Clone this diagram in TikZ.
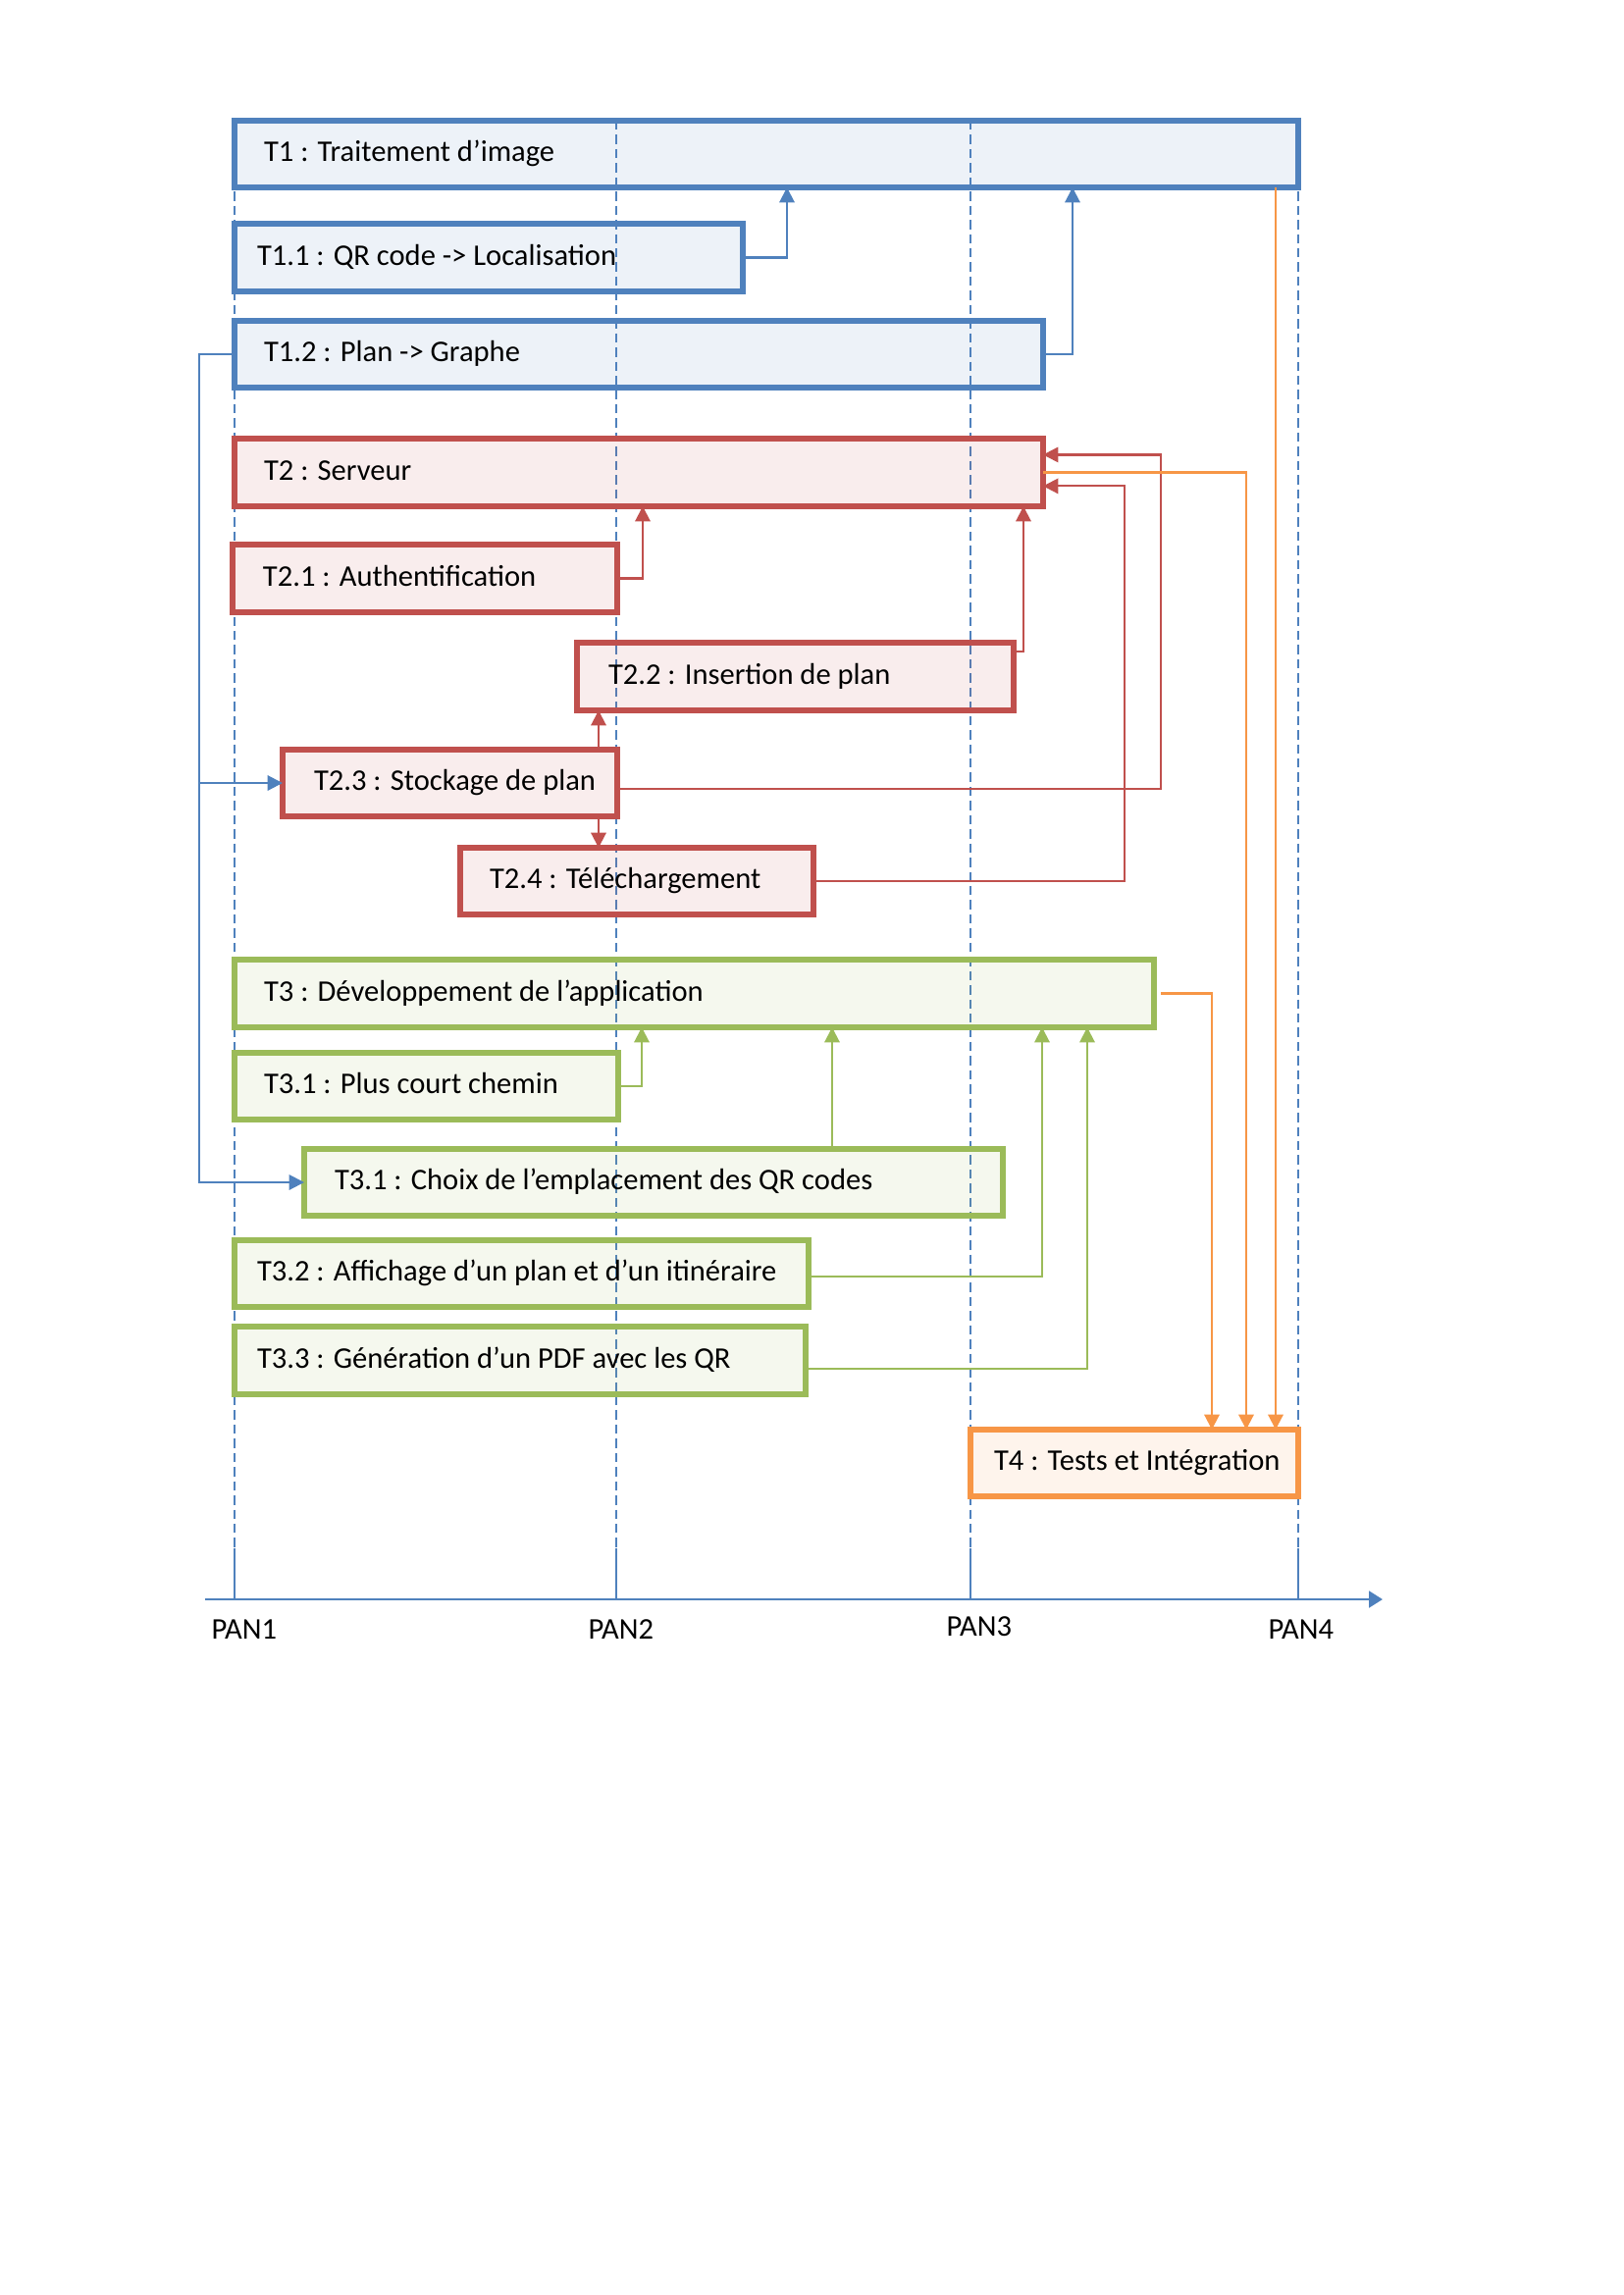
\documentclass[tikz,border=0pt]{standalone}
\usepackage{fontspec}
\setmainfont{Carlito}
\usetikzlibrary{arrows.meta}
\definecolor{cblue}{HTML}{4F81BD}
\definecolor{cred}{HTML}{C0504D}
\definecolor{cgreen}{HTML}{9BBB59}
\definecolor{corange}{HTML}{F79646}
\tikzset{
  tb/.style={draw=#1, line width=2pt, fill=#1, fill opacity=0.1, text opacity=1,
    outer sep=0pt, inner sep=0pt, font=\fontsize{11}{13.6}\selectfont},
  conn/.style={draw=#1, line width=0.75pt},
  arr/.style={conn=#1, -{Triangle[length=5.5pt,width=5.5pt]}},
  panline/.style={draw=cblue, line width=0.75pt, dash pattern=on 3.4pt off 1.8pt},
  lbl/.style={font=\fontsize{11}{13.6}\selectfont, inner sep=0pt},
}
% name, style, x1, y1, x2, y2, inset, text  (coordinates = border centre line)
\newcommand\tbox[8]{%
  \node[#2, anchor=north west,
    minimum width=\fpeval{(#5-#3)*0.36}pt,
    minimum height=\fpeval{(#6-#4)*0.36}pt] (#1) at (#3,#4)
    {\makebox[\fpeval{(#5-#3)*0.36}pt][l]{\hspace*{\fpeval{#7*0.36}pt}\strut #8}};}
\begin{document}
\begin{tikzpicture}[x=0.36pt,y=-0.36pt]
\useasboundingbox (0,0) rectangle (1654,2339);
% time lines
\foreach \x in {239,628,989,1323} {
  \draw[panline] (\x,123) -- (\x,1578);
  \draw[conn=cblue] (\x,1578) -- (\x,1630);
}
\draw[line width=1pt, cblue, -{Triangle[length=5pt,width=6pt]}] (209,1630) -- (1409,1630);
\node[lbl, anchor=base west] (pan1) at (215,1670) {PAN1};
\node[lbl, anchor=base west] (pan2) at (599,1670) {PAN2};
\node[lbl, anchor=base west] (pan3) at (964,1667) {PAN3};
\node[lbl, anchor=base west] (pan4) at (1292,1670) {PAN4};
% boxes
\tbox{t1}{tb=cblue}{239}{123}{1323}{191}{30}{T1 : Traitement d’image}
\tbox{t11}{tb=cblue}{239}{228}{757}{297}{23}{T1.1 : QR code -> Localisation}
\tbox{t12}{tb=cblue}{239}{327}{1063}{395}{30}{T1.2 : Plan -> Graphe}
\tbox{t2}{tb=cred}{239}{447}{1063}{516}{30}{T2 : Serveur}
\tbox{t21}{tb=cred}{237}{555}{629}{624}{31}{T2.1 : Authentification}
\tbox{t22}{tb=cred}{588}{655}{1033}{724}{32}{T2.2 : Insertion de plan}
\tbox{t23}{tb=cred}{288}{764}{629}{832}{32}{T2.3 : Stockage de plan}
\tbox{t24}{tb=cred}{469}{864}{829}{932}{30}{T2.4 : Téléchargement}
\tbox{t3}{tb=cgreen}{239}{978}{1176}{1047}{30}{T3 : Développement de l’application}
\tbox{t31a}{tb=cgreen}{239}{1073}{630}{1141}{30}{T3.1 : Plus court chemin}
\tbox{t31b}{tb=cgreen}{310}{1171}{1022}{1239}{31}{T3.1 : Choix de l’emplacement des QR codes}
\tbox{t32}{tb=cgreen}{239}{1264}{824}{1332}{23}{T3.2 : Affichage d’un plan et d’un itinéraire}
\tbox{t33}{tb=cgreen}{239}{1352}{821}{1421}{23}{T3.3 : Génération d’un PDF avec les QR}
\tbox{t4}{tb=corange}{989}{1457}{1323}{1525}{24}{T4 : Tests et Intégration}
% routing coordinates
\coordinate (xa) at (802,0);
\coordinate (xb) at (1093,0);
\coordinate (xl) at (203,0);
\coordinate (xr1) at (655,0);
\coordinate (xr2) at (1043,0);
\coordinate (xr3) at (610,0);
\coordinate (xr4) at (1183,0);
\coordinate (xr5) at (1146,0);
\coordinate (xo1) at (1235,0);
\coordinate (xo2) at (1270,0);
\coordinate (xo3) at (1300,0);
\coordinate (xg1) at (654,0);
\coordinate (xg2) at (848,0);
\coordinate (xg3) at (1062,0);
\coordinate (xg4) at (1108,0);
\coordinate (t2a) at ([yshift=6.5pt]t2.east);
\coordinate (t2b) at ([yshift=-5pt]t2.east);
% blue connectors
\draw[arr=cblue] (t11.east) -| (t1.south -| xa);
\draw[arr=cblue] (t12.east) -| (t1.south -| xb);
\draw[arr=cblue] (t12.west) -- (t12.west -| xl) |- (t23.west);
\draw[arr=cblue] (t12.west -| xl) |- (t31b.west);
% red connectors
\draw[arr=cred] (t21.east) -| (t2.south -| xr1);
\draw[arr=cred] ([yshift=-3.2pt]t22.north east) -| (t2.south -| xr2);
\draw[arr=cred] (t23.north -| xr3) -- (t22.south -| xr3);
\draw[arr=cred] (t23.south -| xr3) -- (t24.north -| xr3);
\draw[arr=cred] ([yshift=-2pt]t23.east) -| (t2a -| xr4) -- (t2a);
\draw[arr=cred] (t24.east) -| (t2b -| xr5) -- (t2b);
% orange connectors
\draw[arr=corange] (t2.east) -| (t4.north -| xo2);
\draw[arr=corange] (t1.south -| xo3) -- (t4.north -| xo3);
\draw[arr=corange, shorten <=2.5pt] (t3.east) -| (t4.north -| xo1);
% green connectors
\draw[arr=cgreen] (t31a.east) -| (t3.south -| xg1);
\draw[arr=cgreen] (t31b.north -| xg2) -- (t3.south -| xg2);
\draw[arr=cgreen] ([yshift=-1.2pt]t32.east) -| (t3.south -| xg3);
\draw[arr=cgreen] ([yshift=-2.9pt]t33.east) -| (t3.south -| xg4);
\end{tikzpicture}
\end{document}
